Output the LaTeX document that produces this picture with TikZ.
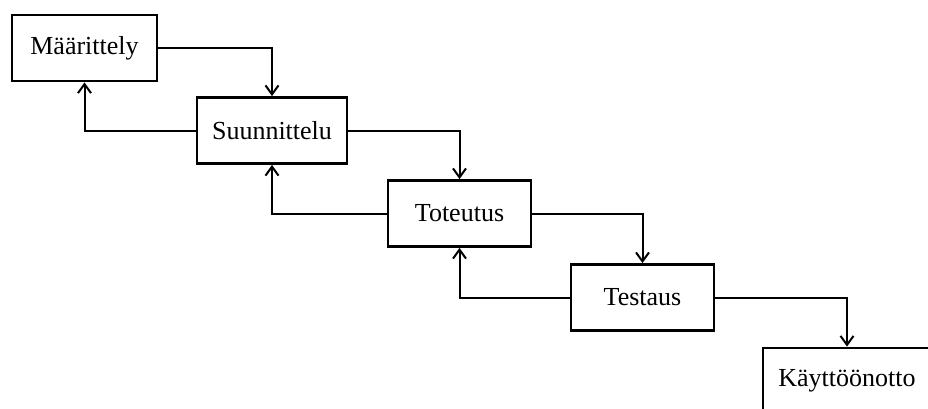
\documentclass[tikz,border=0pt]{standalone}
\usepackage{fontspec}
\setmainfont{Liberation Serif}
\usetikzlibrary{arrows.meta}
\begin{document}
\begin{tikzpicture}[x=1pt,y=-1pt,
  phase/.style={draw=black, line width=2.8pt, fill=white, inner sep=0pt,
    minimum height=66pt, font=\fontsize{26}{30}\selectfont},
  conn/.style={line width=2pt, -{Straight Barb[length=9pt,width=13pt]}}]
  \useasboundingbox (0,0) rectangle (928,408);
  \clip (0,0) rectangle (928,408);
  \fill[white] (0,0) rectangle (928,408);
  % phases of the waterfall model
  \node[phase, minimum width=145pt] (m) at (84.5,48) {Määrittely};
  \node[phase, minimum width=150pt] (s) at (272,130.5) {Suunnittelu};
  \node[phase, minimum width=143pt] (t) at (459.5,213.5) {Toteutus};
  \node[phase, minimum width=143pt] (e) at (642.5,297.5) {Testaus};
  \node[phase, minimum width=168pt] (k) at (847,381) {Käyttöönotto};
  % forward flow
  \draw[conn] (m.east) -| (s.north);
  \draw[conn] (s.east) -| (t.north);
  \draw[conn] (t.east) -| (e.north);
  \draw[conn] (e.east) -| (k.north);
  % feedback to the previous phase
  \draw[conn] (s.west) -| (m.south);
  \draw[conn] (t.west) -| (s.south);
  \draw[conn] (e.west) -| (t.south);
\end{tikzpicture}
\end{document}
